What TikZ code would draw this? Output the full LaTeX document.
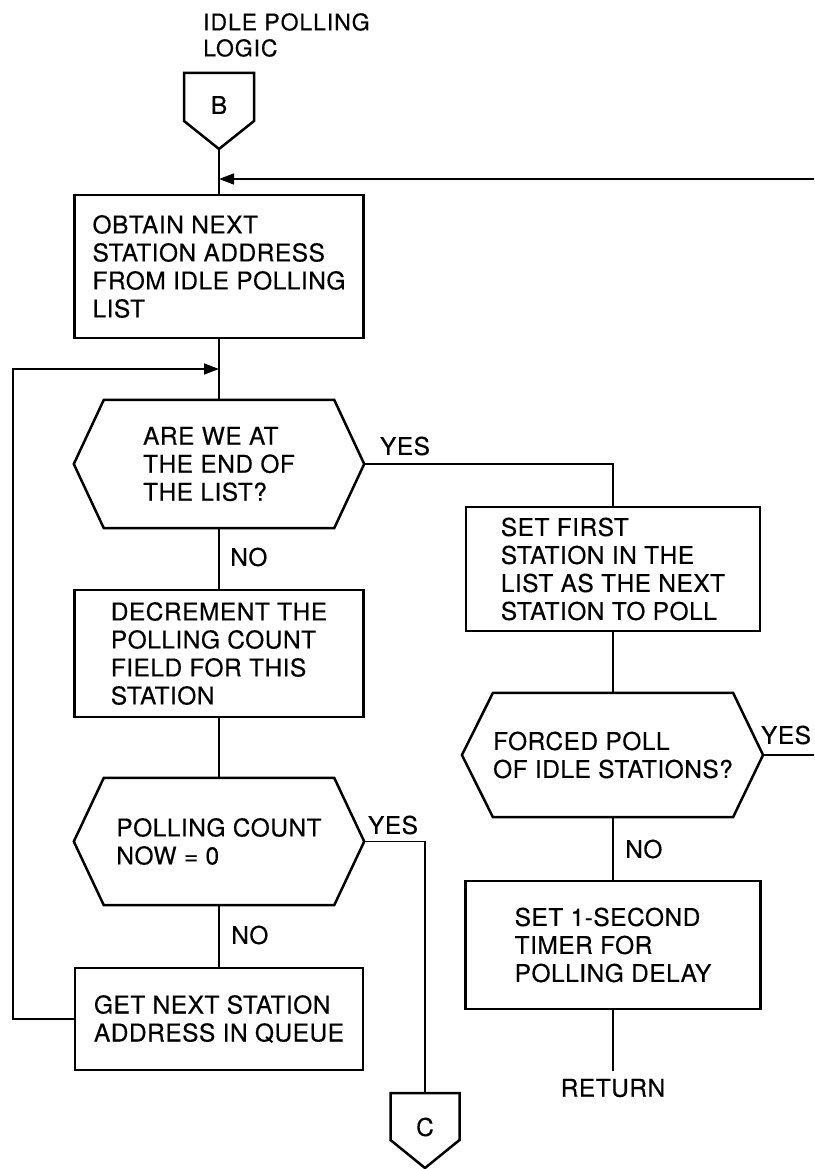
\documentclass[tikz,border=0pt]{standalone}
\usepackage{fontspec}
\setmainfont{TeX Gyre Heros}[LetterSpace=2, FakeBold=0.3]
\usetikzlibrary{arrows.meta,calc}
\begin{document}
\begin{tikzpicture}[x=1pt,y=-1pt,
  txt/.style={font=\fontsize{24.5}{28}\selectfont, inner sep=0pt},
  box/.style={txt, draw, line width=2.5pt, align=left},
  hexnode/.style={txt, align=left, minimum height=128pt},
  thick line/.style={line width=2.5pt, line join=miter},
  flow/.style={line width=1.5pt},
  arrow/.style={flow, -{Triangle[length=15pt,width=11pt]}}
]
\useasboundingbox (0,0) rectangle (814,1169);

% title
\node[txt, font=\fontsize{23}{26}\selectfont\addfontfeatures{LetterSpace=4}, align=left, anchor=north west] (title) at (203,13) {IDLE POLLING\\LOGIC};

% connector B
\node[txt] (B) at (219,105) {B};
\draw[thick line] ($(B)+(-35,-32)$) -- ($(B)+(35,-32)$) -- ($(B)+(35,16)$) -- ($(B)+(0,44)$) -- ($(B)+(-35,16)$) -- cycle;
\coordinate (Bt) at ($(B)+(0,44)$);

% boxes
\node[box, minimum width=289pt, minimum height=143pt] (b1) at (219,266.5) {OBTAIN NEXT\\STATION ADDRESS\\FROM IDLE POLLING\\LIST};
\node[box, minimum width=289pt, minimum height=127pt] (bdec) at (219,653.5) {DECREMENT THE\\POLLING COUNT\\FIELD FOR THIS\\STATION};
\node[box, minimum width=288pt, minimum height=102pt] (b4) at (219,1019) {GET NEXT STATION\\ADDRESS IN QUEUE};
\node[box, minimum width=294pt, minimum height=124pt] (b2) at (613,569) {SET FIRST\\STATION IN THE\\LIST AS THE NEXT\\STATION TO POLL};
\node[box, minimum width=295pt, minimum height=128pt] (b3) at (613,945) {SET 1-SECOND\\TIMER FOR\\POLLING DELAY};

% hexagons
\node[hexnode, minimum width=230pt] (h1) at (219,464) {ARE WE AT\\THE END OF\\THE LIST?};
\draw[thick line] (h1.north west) -- (h1.north east) -- ($(h1.east)+(30,0)$) -- (h1.south east) -- (h1.south west) -- ($(h1.west)+(-30,0)$) -- cycle;
\coordinate (h1r) at ($(h1.east)+(30,0)$);

\node[hexnode, minimum width=230pt, minimum height=127pt] (h3) at (219,841.5) {POLLING COUNT\\NOW = 0};
\draw[thick line] (h3.north west) -- (h3.north east) -- ($(h3.east)+(30,0)$) -- (h3.south east) -- (h3.south west) -- ($(h3.west)+(-30,0)$) -- cycle;
\coordinate (h3r) at ($(h3.east)+(30,0)$);

\node[hexnode, minimum width=228pt, minimum height=124pt] (h2) at (613,755) {FORCED POLL\\OF IDLE STATIONS?};
\draw[thick line] (h2.north west) -- (h2.north east) -- ($(h2.east)+(30,0)$) -- (h2.south east) -- (h2.south west) -- ($(h2.west)+(-31,0)$) -- cycle;
\coordinate (h2r) at ($(h2.east)+(30,0)$);

% connector C
\node[txt] (C) at (425,1127) {C};
\draw[thick line] ($(C)+(-34.5,-34)$) -- ($(C)+(34.5,-34)$) -- ($(C)+(34.5,13)$) -- ($(C)+(0,41)$) -- ($(C)+(-34.5,13)$) -- cycle;
\coordinate (Ct) at ($(C)+(0,-34)$);

% return
\node[txt, inner sep=8pt] (ret) at (613,1088) {RETURN};

% labels
\node[txt] (yes1) at (405,446) {YES};
\node[txt, anchor=west] (no1) at (230,557) {NO};
\node[txt] (yes2) at (786,735) {YES};
\node[txt, anchor=west] (no2) at (625,849) {NO};
\node[txt] (yes3) at (393,825) {YES};
\node[txt, anchor=west] (no3) at (231,935) {NO};

% coordinates
\coordinate (e1) at (814,179);
\coordinate (m1) at (219,179);
\coordinate (l1) at (13,369);
\coordinate (m2) at (219,369);
\coordinate (e2) at (814,755);

% connectors
\draw[flow] (Bt) -- (b1.north);
\draw[arrow] (e1) -- (m1);
\draw[flow] (b1.south) -- (h1.north);
\draw[arrow] (b4.west) -| (l1) -- (m2);
\draw[flow] (h1r) -| (b2.north);
\draw[flow] (h1.south) -- (bdec.north);
\draw[flow] (bdec.south) -- (h3.north);
\draw[flow] (h3r) -| (Ct);
\draw[flow] (h3.south) -- (b4.north);
\draw[flow] (b2.south) -- (h2.north);
\draw[flow] (h2r) -- (e2);
\draw[flow] (h2.south) -- (b3.north);
\draw[flow] (b3.south) -- (ret.north);
\end{tikzpicture}
\end{document}
